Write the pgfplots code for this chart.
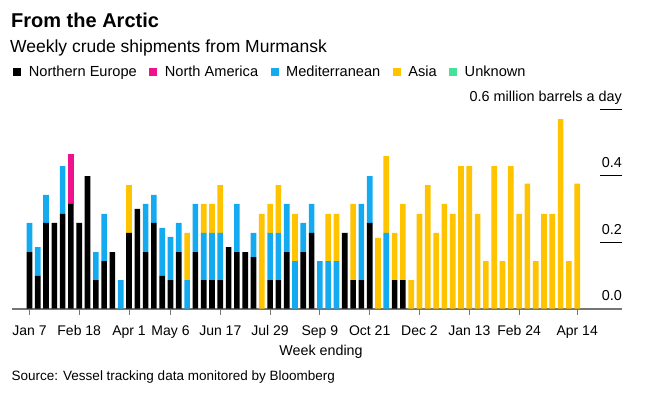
\documentclass[border=0pt]{standalone}
\usepackage{pgfplots}
\pgfplotsset{compat=1.18}
\usepackage{pgfplotstable}
\usepackage{fontspec}
\setmainfont{Liberation Sans}
\definecolor{neblack}{HTML}{000000}
\definecolor{napink}{HTML}{F0128C}
\definecolor{medblue}{HTML}{14AAF0}
\definecolor{asiayellow}{HTML}{FFC300}
\definecolor{unkgreen}{HTML}{45E39A}
\definecolor{axisgray}{HTML}{757575}
\pgfplotstableread{
x ne na med asia
0 0.170 0 0.088 0
1 0.099 0 0.086 0
2 0.258 0 0.084 0
3 0.258 0 0 0
4 0.285 0 0.144 0
5 0.315 0.151 0 0
6 0.258 0 0 0
7 0.399 0 0 0
8 0.086 0 0.084 0
9 0.143 0 0.142 0
10 0.170 0 0 0
11 0 0 0.086 0
12 0.228 0 0 0.144
13 0.300 0 0 0
14 0.170 0 0.145 0
15 0.258 0 0.084 0
16 0.099 0 0.144 0
17 0.086 0 0.130 0
18 0.170 0 0.088 0
19 0 0 0.086 0.142
20 0.170 0 0.145 0
21 0.086 0 0.142 0.087
22 0.086 0 0.142 0.087
23 0.086 0 0.142 0.144
24 0.185 0 0 0
25 0.170 0 0.145 0
26 0.170 0 0 0
27 0.155 0 0.073 0
28 0 0 0 0.285
29 0.086 0 0.142 0.087
30 0.086 0 0.142 0.144
31 0.170 0 0.145 0
32 0 0 0.143 0.142
33 0.170 0 0.088 0
34 0.228 0 0.087 0
35 0 0 0.143 0
36 0 0 0.143 0.142
37 0 0 0.143 0.142
38 0.228 0 0 0
39 0.086 0 0 0.229
40 0.086 0 0.229 0
41 0.258 0 0.141 0
42 0 0 0 0.213
43 0 0 0.228 0.231
44 0.086 0 0 0.142
45 0.086 0 0 0.229
46 0 0 0 0.086
47 0 0 0 0.285
48 0 0 0 0.372
49 0 0 0 0.228
50 0 0 0 0.315
51 0 0 0 0.285
52 0 0 0 0.429
53 0 0 0 0.429
54 0 0 0 0.285
55 0 0 0 0.143
56 0 0 0 0.429
57 0 0 0 0.143
58 0 0 0 0.429
59 0 0 0 0.285
60 0 0 0 0.376
61 0 0 0 0.143
62 0 0 0 0.285
63 0 0 0 0.285
64 0 0 0 0.570
65 0 0 0 0.143
66 0 0 0 0.376
}\shipdata
\begin{document}
\begin{tikzpicture}[x=1bp,y=1bp]
\path[use as bounding box] (-12,-85.3) rectangle (651,308.7);
\node[anchor=base west, inner sep=0pt, font=\fontsize{20bp}{23bp}\selectfont\bfseries] at (-1,281.4) {From the Arctic};
\node[anchor=base west, inner sep=0pt, font=\fontsize{17.5bp}{20bp}\selectfont] at (-2,256.4) {Weekly crude shipments from Murmansk};
\node[anchor=base west, inner sep=0pt, font=\fontsize{13.5bp}{16bp}\selectfont] at (-0.5,-72) {Source: Vessel tracking data monitored by Bloomberg};
\begin{axis}[
  scale only axis, width=610bp, height=199.5bp,
  xmin=-2.1, xmax=71.4, ymin=0, ymax=0.6,
  ybar stacked, bar width=0.68,
  axis line style={draw=none},
  xtick={0,6,12,17,23,29,35,41,47,53,59,66},
  xticklabels={Jan 7,Feb 18,Apr 1,May 6,Jun 17,Jul 29,Sep 9,Oct 21,Dec 2,Jan 13,Feb 24,Apr 14},
  xtick pos=bottom, xtick align=outside, major tick length=6bp,
  x tick style={draw=axisgray, line width=1bp},
  ytick={0,0.2,0.4,0.6},
  yticklabels={0.0,0.2,0.4,0.6 million barrels a day},
  ytick pos=right, yticklabel pos=right,
  y tick style={draw=none},
  yticklabel style={anchor=base east, inner sep=0pt, yshift=8bp, font=\fontsize{14.4bp}{16bp}\selectfont},
  xticklabel style={anchor=base, inner sep=0pt, yshift=-20.6bp, font=\fontsize{14bp}{16bp}\selectfont},
  /pgf/number format/assume math mode=true,
  xlabel={Week ending},
  xlabel style={at={(rel axis cs:0.5,0)}, anchor=base, inner sep=0pt, yshift=-47bp, xshift=4bp, font=\fontsize{14.3bp}{16bp}\selectfont},
  legend columns=-1,
  legend image code/.code={\fill[#1] (0bp,-4bp) rectangle (8bp,4bp);},
  legend style={at={(rel axis cs:0.002,1.185)}, anchor=west, draw=none, fill=none, inner sep=0pt,
    font=\fontsize{14.6bp}{16bp}\selectfont, nodes={inner sep=0pt},
    /tikz/every odd column/.append style={column sep=7.5bp},
    /tikz/every even column/.append style={column sep=12.5bp}},
  clip=false,
]
\addplot[fill=neblack, draw=none] table[x=x,y=ne]{\shipdata};
\addplot[fill=napink, draw=none] table[x=x,y=na]{\shipdata};
\addplot[fill=medblue, draw=none] table[x=x,y=med]{\shipdata};
\addplot[fill=asiayellow, draw=none] table[x=x,y=asia]{\shipdata};
\addlegendimage{fill=unkgreen, draw=none}
\legend{Northern Europe, North America, Mediterranean, Asia, Unknown}
\draw[axisgray, line width=2bp] (axis cs:-2.1,0) -- (axis cs:71.4,0);
\draw[black, line width=1bp] (axis cs:68.75,0.2) -- (axis cs:71.4,0.2);
\draw[black, line width=1bp] (axis cs:68.75,0.4) -- (axis cs:71.4,0.4);
\draw[black, line width=1bp] (axis cs:68.75,0.6) -- (axis cs:71.4,0.6);
\end{axis}
\end{tikzpicture}
\end{document}
